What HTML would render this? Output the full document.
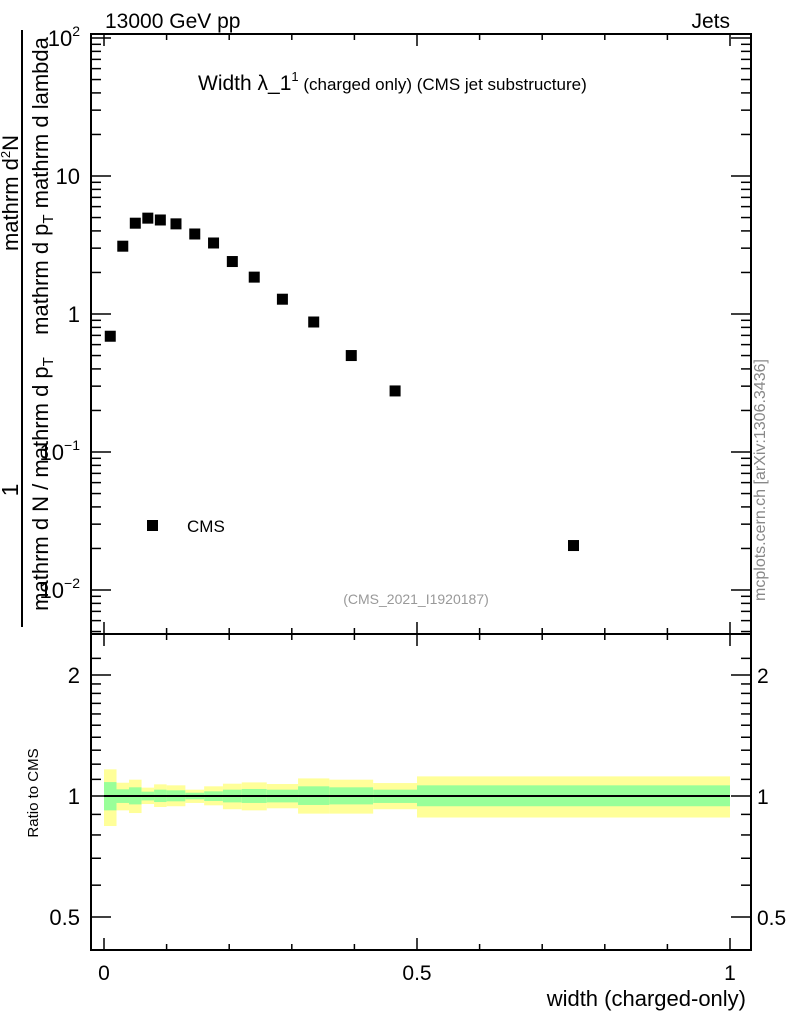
<!DOCTYPE html>
<html><head><meta charset="utf-8"><style>
body{margin:0;background:#fff;}
svg{display:block;font-family:"Liberation Sans",sans-serif;}
</style></head><body>
<svg id="chart" width="786" height="1024" viewBox="0 0 786 1024">
<g id="bands"></g>
<g id="marks"></g>
<g id="axes"></g>
<text x="105" y="28" font-size="21">13000 GeV pp</text>
<text x="730" y="28" font-size="21" text-anchor="end">Jets</text>
<text x="198" y="90" font-size="21">Width λ_1<tspan font-size="13" dy="-9">1</tspan><tspan font-size="17" dy="9"> (charged only) (CMS jet substructure)</tspan></text>
<text x="416" y="604" font-size="14" fill="#999" text-anchor="middle">(CMS_2021_I1920187)</text>
<rect x="147" y="520" width="11" height="11" fill="#000"/>
<text x="187" y="532" font-size="17">CMS</text>
<text x="765" y="480" font-size="16" fill="#888" text-anchor="middle" transform="rotate(-90 765 480)">mcplots.cern.ch [arXiv:1306.3436]</text>
<line x1="22" y1="30" x2="22" y2="627" stroke="#000" stroke-width="2"/>
<text x="18" y="490" font-size="23" text-anchor="middle" transform="rotate(-90 18 490)">1</text>
<text x="48" y="484" font-size="22" text-anchor="middle" transform="rotate(-90 48 484)">mathrm d N / mathrm d p<tspan font-size="15" dy="5">T</tspan></text>
<text x="18" y="193" font-size="22" text-anchor="middle" transform="rotate(-90 18 193)">mathrm d<tspan font-size="13" dy="-8">2</tspan><tspan dy="8">N</tspan></text>
<text x="48" y="186" font-size="22" text-anchor="middle" transform="rotate(-90 48 186)">mathrm d p<tspan font-size="15" dy="5">T</tspan><tspan dy="-5"> mathrm d lambda</tspan></text>
<text x="38" y="793" font-size="15" text-anchor="middle" transform="rotate(-90 38 793)">Ratio to CMS</text>
<text x="746" y="1006" font-size="22" text-anchor="end">width (charged-only)</text>
</svg>
<script>
const edges=[0,0.02,0.04,0.06,0.08,0.1,0.13,0.16,0.19,0.22,0.26,0.31,0.36,0.43,0.5,1.0];
const values=[0.69,3.1,4.55,4.95,4.8,4.5,3.8,3.27,2.4,1.85,1.28,0.875,0.50,0.277,0.021];
const totUp=[1.165,1.079,1.098,1.049,1.069,1.063,1.037,1.057,1.073,1.081,1.071,1.106,1.098,1.077,1.119];
const totDn=[0.842,0.921,0.907,0.955,0.939,0.943,0.961,0.948,0.927,0.921,0.932,0.904,0.904,0.927,0.884];
const statUp=[1.083,1.039,1.051,1.025,1.037,1.033,1.019,1.027,1.037,1.041,1.037,1.057,1.051,1.037,1.063];
const statDn=[0.921,0.961,0.953,0.975,0.966,0.970,0.981,0.972,0.964,0.961,0.964,0.950,0.953,0.961,0.943];
const xTicks=[0,0.5,1];
const xTickLabels=["0","0.5","1"];
const yTicks=[0.01,0.1,1,10,100];
const rTicks=[0.5,1,2];
const rTickLabels=["0.5","1","2"];

const NS="http://www.w3.org/2000/svg";
const L=91,R=751,T=34,M=634,B=950;
const X=v=>104+v*626;
const Y=v=>314-Math.log10(v)*138;
const RY=v=>796-Math.log2(v)*121;
function mk(tag,attrs,parent){const e=document.createElementNS(NS,tag);for(const k in attrs)e.setAttribute(k,attrs[k]);document.getElementById(parent).appendChild(e);return e;}

for(let i=0;i<values.length;i++){
  const x0=X(edges[i]),x1=X(edges[i+1]);
  let r=mk('rect',{x:x0,y:RY(totUp[i]),width:x1-x0,height:RY(totDn[i])-RY(totUp[i]),fill:'#ffff99'},'bands');
  
  
  let g=mk('rect',{x:x0,y:RY(statUp[i]),width:x1-x0,height:RY(statDn[i])-RY(statUp[i]),fill:'#99ff99'},'bands');
  
  
  const xc=X((edges[i]+edges[i+1])/2);
  let p=mk('rect',{x:xc-5.5,y:Y(values[i])-5.5,width:11,height:11,fill:'#000'},'marks');
  
  
}
let ref=mk('line',{x1:X(0),x2:X(1),y1:RY(1),y2:RY(1),stroke:'#000','stroke-width':2},'marks');



for(const [y0,y1] of [[T,M],[M,B]]){
  let f=mk('rect',{x:L,y:y0,width:R-L,height:y1-y0,fill:'none',stroke:'#000','stroke-width':2},'axes');
  
  
}
for(let k=0;k<=10;k++){
  const v=k/10,x=X(v),len=(k%5==0)?12:6;
  for(const [y,d] of [[T,1],[M,-1],[M,1],[B,-1]]){
    mk('line',{x1:x,x2:x,y1:y,y2:y+d*len,stroke:'#000','stroke-width':1.5},'axes');
  }
}
xTicks.forEach((v,i)=>{
  let t=mk('text',{x:X(v),y:980,'font-size':21,'text-anchor':'middle'},'axes');
  t.textContent=xTickLabels[i];
  
  
});
for(let d=-3;d<=2;d++){
  for(let m=1;m<10;m++){
    const v=m*Math.pow(10,d),y=Y(v);
    if(y<T||y>M)continue;
    const len=m==1?20:10;
    mk('line',{x1:L,x2:L+len,y1:y,y2:y,stroke:'#000','stroke-width':1.5},'axes');
    mk('line',{x1:R,x2:R-len,y1:y,y2:y,stroke:'#000','stroke-width':1.5},'axes');
  }
}
yTicks.forEach(v=>{
  const e=Math.round(Math.log10(v));
  let t=mk('text',{x:80,y:Y(v)+8,'font-size':22,'text-anchor':'end'},'axes');
  if(e==0)t.textContent='1';else if(e==1)t.textContent='10';
  else{t.textContent='10';const s=document.createElementNS(NS,'tspan');s.setAttribute('font-size',14);s.setAttribute('dy',-10);s.textContent=(e<0?'\u2212':'')+Math.abs(e);t.appendChild(s);}
  
  
});
const rminor=[0.5,0.6,0.7,0.8,0.9,1,1.1,1.2,1.3,1.4,1.5,1.6,1.7,1.8,1.9,2,2.2];
rminor.forEach(v=>{
  const y=RY(v),len=rTicks.includes(v)?20:10;
  if(y<M||y>B)return;
  mk('line',{x1:L,x2:L+len,y1:y,y2:y,stroke:'#000','stroke-width':1.5},'axes');
  mk('line',{x1:R,x2:R-len,y1:y,y2:y,stroke:'#000','stroke-width':1.5},'axes');
});
rTicks.forEach((v,i)=>{
  let t=mk('text',{x:80,y:RY(v)+8,'font-size':22,'text-anchor':'end'},'axes');
  t.textContent=rTickLabels[i];
  
  
  let t2=mk('text',{x:757,y:RY(v)+8,'font-size':21,'text-anchor':'start'},'axes');
  t2.textContent=rTickLabels[i];
  
  
});
</script>
</body></html>
